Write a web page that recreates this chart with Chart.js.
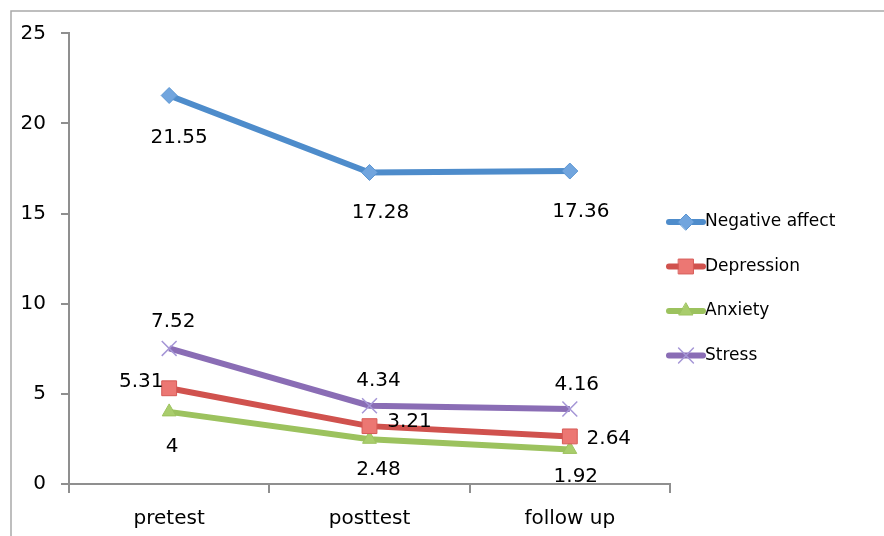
<!DOCTYPE html>
<html>
<head>
<meta charset="utf-8">
<script src="https://cdn.jsdelivr.net/npm/chart.js@4/dist/chart.umd.min.js"></script>
<style>
  html, body { margin: 0; padding: 0; background: #fff; overflow: hidden; }
  canvas { display: block; }
</style>
</head>
<body>
<canvas id="chart" width="884" height="536"></canvas>
<script>
const categories = ['pretest', 'posttest', 'follow up'];
const negativeAffect = [21.55, 17.28, 17.36];
const depression = [5.31, 3.21, 2.64];
const anxiety = [4, 2.48, 1.92];
const stress = [7.52, 4.34, 4.16];
const yTicks = [0, 5, 10, 15, 20, 25];

const FONT = '"DejaVu Sans", sans-serif';
const AXIS_GRAY = '#8f8f8f';

// label offsets from each point (px), like the Excel label placement
const labelOffsets = {
  'Negative affect': [[10, 42], [11, 40], [11, 41]],
  'Depression': [[-28, -6], [40, -4], [39, 2]],
  'Anxiety': [[3, 35], [9, 31], [6, 27]],
  'Stress': [[4, -27], [9, -25], [7, -24]]
};

function series(label, data, line, fill, border, style, radius, borderWidth) {
  return {
    label,
    data,
    borderColor: line,
    borderWidth: 6,
    backgroundColor: fill,
    pointStyle: style,
    pointRadius: radius,
    pointHoverRadius: radius,
    pointBackgroundColor: fill,
    pointBorderColor: border,
    pointBorderWidth: borderWidth,
    tension: 0
  };
}

const frame = {
  id: 'frame',
  beforeDraw(chart) {
    const ctx = chart.ctx;
    ctx.save();
    ctx.strokeStyle = '#a9a9a9';
    ctx.lineWidth = 1.5;
    ctx.beginPath();
    ctx.moveTo(11, chart.height);
    ctx.lineTo(11, 11);
    ctx.lineTo(chart.width, 11);
    ctx.stroke();
    ctx.restore();
  }
};

const valueLabels = {
  id: 'valueLabels',
  afterDatasetsDraw(chart) {
    const ctx = chart.ctx;
    ctx.save();
    ctx.font = '20px ' + FONT;
    ctx.fillStyle = '#000';
    ctx.textAlign = 'center';
    ctx.textBaseline = 'middle';
    chart.data.datasets.forEach((ds, i) => {
      const meta = chart.getDatasetMeta(i);
      const offs = labelOffsets[ds.label] || [];
      meta.data.forEach((pt, j) => {
        const o = offs[j] || [0, -20];
        ctx.fillText(String(ds.data[j]), pt.x + o[0], pt.y + o[1]);
      });
    });
    ctx.restore();
  }
};

const sideLegend = {
  id: 'sideLegend',
  afterDraw(chart) {
    const ctx = chart.ctx;
    const x0 = 669, x1 = 703, startY = 222, step = 44.5;
    ctx.save();
    chart.data.datasets.forEach((ds, i) => {
      const y = startY + i * step;
      ctx.beginPath();
      ctx.lineCap = 'round';
      ctx.strokeStyle = ds.borderColor;
      ctx.lineWidth = 6;
      ctx.moveTo(x0, y);
      ctx.lineTo(x1, y);
      ctx.stroke();
      if (Chart.helpers && Chart.helpers.drawPoint) {
        ctx.fillStyle = ds.pointBackgroundColor;
        ctx.strokeStyle = ds.pointBorderColor;
        ctx.lineWidth = ds.pointBorderWidth;
        Chart.helpers.drawPoint(ctx, {
          pointStyle: ds.pointStyle,
          radius: ds.pointRadius,
          rotation: 0,
          borderWidth: ds.pointBorderWidth
        }, (x0 + x1) / 2, y);
      }
      ctx.fillStyle = '#000';
      ctx.font = '17px ' + FONT;
      ctx.textAlign = 'left';
      ctx.textBaseline = 'middle';
      ctx.fillText(ds.label, x1 + 2, y);
    });
    ctx.restore();
  }
};

new Chart(document.getElementById('chart'), {
  type: 'line',
  data: {
    labels: categories,
    datasets: [
      series('Negative affect', negativeAffect, '#4e8ccb', '#71a5de', '#5b95d2', 'rectRot', 8, 1),
      series('Depression', depression, '#d0524e', '#ec7773', '#d65a56', 'rect', 10.5, 1),
      series('Anxiety', anxiety, '#9cc25e', '#a9cd6c', '#9cc25e', 'triangle', 8, 1),
      series('Stress', stress, '#8a6db5', '#a596d6', '#a596d6', 'crossRot', 10.5, 1.5)
    ]
  },
  options: {
    responsive: false,
    animation: false,
    layout: { padding: { top: 33.3, right: 214, bottom: 0, left: 0 } },
    plugins: {
      legend: { display: false },
      tooltip: { enabled: false }
    },
    scales: {
      x: {
        offset: true,
        afterFit: (scale) => { scale.height = 52; },
        grid: {
          offset: true,
          drawOnChartArea: false,
          drawTicks: true,
          tickLength: 9,
          color: AXIS_GRAY,
          lineWidth: 2
        },
        border: { color: AXIS_GRAY, width: 2 },
        ticks: { color: '#000', font: { family: FONT, size: 20 }, padding: 14 }
      },
      y: {
        min: 0,
        max: 25,
        afterFit: (scale) => { scale.width = 69; },
        afterBuildTicks: (scale) => { scale.ticks = yTicks.map((v) => ({ value: v })); },
        grid: {
          drawOnChartArea: false,
          drawTicks: true,
          tickLength: 8,
          color: AXIS_GRAY,
          lineWidth: 2
        },
        border: { color: AXIS_GRAY, width: 2 },
        ticks: { color: '#000', font: { family: FONT, size: 20 }, padding: 15 }
      }
    }
  },
  plugins: [frame, valueLabels, sideLegend]
});
</script>
</body>
</html>
